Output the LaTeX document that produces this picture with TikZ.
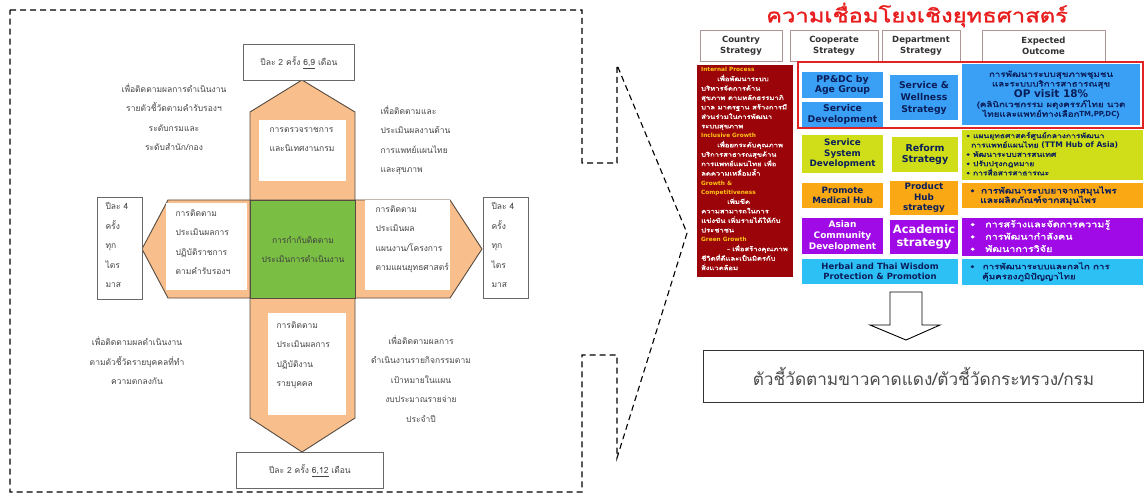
\documentclass[tikz,border=0pt]{standalone}
\usepackage{fontspec}
\setmainfont{DejaVu Sans}
\newfontfamily\enfont{DejaVu Sans}
\newfontfamily\thaifont[Script=Thai,AutoFakeBold=2]{Loma}
\newfontfamily\thaiwide[Script=Thai,FakeStretch=1.25,AutoFakeBold=1.6]{Loma}
\definecolor{peach}{RGB}{248,190,140}
\definecolor{armline}{RGB}{85,75,65}
\definecolor{ctrgreen}{RGB}{122,190,68}
\definecolor{boxgray}{RGB}{105,105,105}
\definecolor{txtgray}{RGB}{70,70,70}
\definecolor{maroon}{RGB}{155,5,10}
\definecolor{hdr}{RGB}{255,196,20}
\definecolor{sky}{RGB}{58,160,245}
\definecolor{navy}{RGB}{10,30,90}
\definecolor{lime}{RGB}{208,222,25}
\definecolor{amber}{RGB}{250,168,20}
\definecolor{violet}{RGB}{160,10,230}
\definecolor{aqua}{RGB}{45,192,245}
\definecolor{redline}{RGB}{225,35,35}
\definecolor{titlered}{RGB}{232,30,30}
\definecolor{hdrline}{RGB}{175,150,150}
\begin{document}
\begin{tikzpicture}[x=1pt,y=-1pt,
  arm/.style={fill=peach,draw=armline,line width=0.9pt,line join=round},
  wbox/.style={fill=white,draw=none,anchor=north west,inner sep=0pt,outer sep=0pt},
  thaitxt/.style={font=\thaifont\fontsize{8.5}{19.5}\selectfont,text=txtgray},
  grayframe/.style={fill=white,draw=boxgray,line width=0.8pt,anchor=north west,inner sep=0pt},
  callout/.style={draw=black,line width=1.1pt,dash pattern=on 6pt off 4pt},
  cell/.style={anchor=north west,inner sep=0pt,outer sep=0pt,align=center,
    font=\enfont\bfseries\fontsize{9.3}{10.5}\selectfont},
  hdrbox/.style={fill=white,draw=hdrline,line width=0.8pt,inner sep=0pt,align=center,
    font=\enfont\bfseries\fontsize{8.5}{11}\selectfont,text=black!80},
  outtxt/.style={align=left,anchor=north west,inner sep=0pt},
  headword/.style={}
]
\useasboundingbox (0,0) rectangle (1145,497);

% ---------- dashed frame with callout pointing to the strategy table ----------
\draw[callout] (10,10) -- (582,10) -- (582,163) -- (617,163) -- (617,65) -- (687,233)
  -- (617,458) -- (617,355) -- (582,355) -- (582,492) -- (10,492) -- cycle;

% ---------- monitoring cross ----------
\draw[arm] (250,200) -- (168,200) -- (142,249) -- (168,298) -- (250,298) -- cycle;
\draw[arm] (355,200) -- (450,200) -- (482,249) -- (450,298) -- (355,298) -- cycle;
\draw[arm] (250,200) -- (250,112) -- (302,80) -- (355,112) -- (355,200) -- cycle;
\draw[arm] (250,298) -- (250,418) -- (302,452) -- (355,418) -- (355,298) -- cycle;

\node[wbox,minimum width=87,minimum height=61] (wtop) at (259,120) {};
\node[wbox,minimum width=81,minimum height=87] (wleft) at (166,203) {};
\node[wbox,minimum width=85,minimum height=90] (wright) at (365,200) {};
\node[wbox,minimum width=78,minimum height=102] (wbottom) at (268,313) {};

\node[fill=ctrgreen,draw=armline,line width=0.9pt,minimum width=105,minimum height=98,
  inner sep=0pt,anchor=north west,thaitxt,text=black!75,align=center] (center) at (250,200)
  {การกำกับติดตาม\\ประเมินการดำเนินงาน};

\node[thaitxt,align=left,anchor=north west] (ttop) at (266,124) {การตรวจราชการ\\และนิเทศงานกรม};
\node[thaitxt,align=left,anchor=north west] (tleft) at (172,206) {การติดตาม\\ประเมินผลการ\\ปฏิบัติราชการ\\ตามคำรับรองฯ};
\node[thaitxt,align=left,anchor=north west] (tright) at (372,202) {การติดตาม\\ประเมินผล\\แผนงาน/โครงการ\\ตามแผนยุทธศาสตร์};
\node[thaitxt,align=left,anchor=north west] (tbottom) at (273,318) {การติดตาม\\ประเมินผลการ\\ปฏิบัติงาน\\รายบุคคล};

% frequency boxes
\node[grayframe,minimum width=111,minimum height=36,thaitxt] (ftop) at (243,44)
  {ปีละ 2 ครั้ง \underline{6,9} เดือน};
\node[grayframe,minimum width=147,minimum height=36,thaitxt] (fbottom) at (236,452)
  {ปีละ 2 ครั้ง \underline{6,12} เดือน};
\node[grayframe,minimum width=45,minimum height=102] (fleft) at (97,197) {};
\node[grayframe,minimum width=45,minimum height=101] (fright) at (483,197) {};
\node[thaitxt,align=left,anchor=north west] (fltxt) at (102,199) {ปีละ 4\\ครั้ง\\ทุก\\ไตร\\มาส};
\node[thaitxt,align=left,anchor=north west] (frtxt) at (488,199) {ปีละ 4\\ครั้ง\\ทุก\\ไตร\\มาส};

% purpose notes
\node[thaitxt,align=center] (ntl) at (174,117)
  {เพื่อติดตามผลการดำเนินงาน\\รายตัวชี้วัดตามคำรับรองฯ\\ระดับกรมและ\\ระดับสำนัก/กอง};
\node[thaitxt,align=left,anchor=north west] (ntr) at (377,102)
  {เพื่อติดตามและ\\ประเมินผลงานด้าน\\การแพทย์แผนไทย\\และสุขภาพ};
\node[thaitxt,align=center] (nbl) at (137,361)
  {เพื่อติดตามผลดำเนินงาน\\ตามตัวชี้วัดรายบุคคลที่ทำ\\ความตกลงกัน};
\node[thaitxt,align=center] (nbr) at (421,379)
  {เพื่อติดตามผลการ\\ดำเนินงานรายกิจกรรมตาม\\เป้าหมายในแผน\\งบประมาณรายจ่าย\\ประจำปี};

% ---------- strategy linkage table ----------
\node[font=\thaiwide\bfseries\fontsize{19}{22}\selectfont,text=titlered] (title) at (917,15)
  {ความเชื่อมโยงเชิงยุทธศาสตร์};

\node[hdrbox,minimum width=82,minimum height=31] (hcountry) at (741,45.5) {Country\\Strategy};
\node[hdrbox,minimum width=88,minimum height=31] (hcoop) at (834,45.5) {Cooperate\\Strategy};
\node[hdrbox,minimum width=78,minimum height=31] (hdept) at (921,45.5) {Department\\Strategy};
\node[hdrbox,minimum width=123,minimum height=31] (hexp) at (1043.5,45.5) {Expected\\Outcome};

% country strategy column
\node[fill=maroon,anchor=north west,minimum width=96,minimum height=212,inner sep=0pt] (country) at (697,65) {};
\node[anchor=north west,inner sep=0pt,align=left,text=white,
  font=\thaiwide\bfseries\fontsize{6.1}{9.45}\selectfont] (countrytxt) at (701,67)
  {{\enfont\fontsize{5.8}{9.45}\selectfont\color{hdr}Internal Process}\\
   \hspace*{16pt}เพื่อพัฒนาระบบ\\
   บริหารจัดการด้าน\\
   สุขภาพ ตามหลักธรรมาภิ\\
   บาล มาตรฐาน สร้างการมี\\
   ส่วนร่วมในการพัฒนา\\
   ระบบสุขภาพ\\
   {\enfont\fontsize{5.8}{9.45}\selectfont\color{hdr}Inclusive Growth}\\
   \hspace*{16pt}เพื่อยกระดับคุณภาพ\\
   บริการสาธารณสุขด้าน\\
   การแพทย์แผนไทย เพื่อ\\
   ลดความเหลื่อมล้ำ\\
   {\enfont\fontsize{5.8}{9.45}\selectfont\color{hdr}Growth \&}\\
   {\enfont\fontsize{5.8}{9.45}\selectfont\color{hdr}Competitiveness}\\
   \hspace*{26pt}เพิ่มขีด\\
   ความสามารถในการ\\
   แข่งขัน เพิ่มรายได้ให้กับ\\
   ประชาชน\\
   {\enfont\fontsize{5.8}{9.45}\selectfont\color{hdr}Green Growth}\\
   \hspace*{26pt}- เพื่อสร้างคุณภาพ\\
   ชีวิตที่ดีและเป็นมิตรกับ\\
   สิ่งแวดล้อม};

% row 1 (blue)
\node[cell,fill=sky,text=navy,minimum width=81,minimum height=26] (ppdc) at (802,72) {PP\&DC by\\Age Group};
\node[cell,fill=sky,text=navy,minimum width=81,minimum height=25] (servdev) at (802,102) {Service\\Development};
\node[cell,fill=sky,text=navy,minimum width=68,minimum height=45,
  font=\enfont\bfseries\fontsize{9.3}{12}\selectfont] (wellness) at (890,75) {Service \&\\Wellness\\Strategy};
\node[cell,fill=sky,text=navy,minimum width=178,minimum height=61,
  font=\thaiwide\bfseries\fontsize{7.8}{9.6}\selectfont] (expblue) at (962,64)
  {การพัฒนาระบบสุขภาพชุมชน\\และระบบบริการสาธารณสุข\\{\enfont\fontsize{10.5}{10}\selectfont OP visit 18\%}\\(คลินิกเวชกรรม ผดุงครรภ์ไทย นวด\\ไทยและแพทย์ทางเลือก{\enfont\fontsize{7}{9.6}\selectfont TM,PP,DC})};
\draw[redline,line width=1.1pt] (798,62) rectangle (1143,128);

% row 2 (lime)
\node[cell,fill=lime,text=navy,minimum width=81,minimum height=38,
  font=\enfont\bfseries\fontsize{8.8}{10.5}\selectfont] (ssd) at (802,135) {Service\\System\\Development};
\node[cell,fill=lime,text=navy,minimum width=66,minimum height=35,
  font=\enfont\bfseries\fontsize{9.5}{11.5}\selectfont] (reform) at (892,137) {Reform\\Strategy};
\node[cell,fill=lime,minimum width=181,minimum height=50] (explime) at (962,130) {};
\node[outtxt,text=navy,font=\thaiwide\bfseries\fontsize{6.8}{9.3}\selectfont] (explimetxt) at (966,132)
  {• แผนยุทธศาสตร์ศูนย์กลางการพัฒนา\\\hspace*{5pt}การแพทย์แผนไทย {\enfont\fontsize{7.6}{9.3}\selectfont(TTM Hub of Asia)}\\• พัฒนาระบบสารสนเทศ\\• ปรับปรุงกฎหมาย\\• การสื่อสารสาธารณะ};

% row 3 (amber)
\node[cell,fill=amber,text=navy,minimum width=81,minimum height=25,
  font=\enfont\bfseries\fontsize{8.7}{10.5}\selectfont] (medhub) at (802,183) {Promote\\Medical Hub};
\node[cell,fill=amber,text=navy,minimum width=68,minimum height=34,
  font=\enfont\bfseries\fontsize{8.8}{10.5}\selectfont] (prodhub) at (890,181) {Product\\Hub\\strategy};
\node[cell,fill=amber,minimum width=181,minimum height=25] (expamber) at (962,183) {};
\node[outtxt,text=navy,font=\thaiwide\bfseries\fontsize{8.1}{9.5}\selectfont] (expambertxt) at (970,186)
  {•\hspace{6pt}การพัฒนาระบบยาจากสมุนไพร\\\hspace*{10pt}และผลิตภัณฑ์จากสมุนไพร};

% row 4 (violet)
\node[cell,fill=violet,text=white,minimum width=81,minimum height=36,
  font=\enfont\bfseries\fontsize{9}{10.8}\selectfont] (asian) at (802,218) {Asian\\Community\\Development};
\node[cell,fill=violet,text=white,minimum width=68,minimum height=34,
  font=\enfont\bfseries\fontsize{11.5}{13.5}\selectfont] (academic) at (890,220) {Academic\\strategy};
\node[cell,fill=violet,minimum width=181,minimum height=38] (expviolet) at (962,218) {};
\node[outtxt,text=white,font=\thaiwide\bfseries\fontsize{8.6}{12.3}\selectfont] (expviolettxt) at (970,220)
  {•\hspace{10pt}การสร้างและจัดการความรู้\\•\hspace{10pt}การพัฒนากำลังคน\\•\hspace{10pt}พัฒนาการวิจัย};

% row 5 (aqua)
\node[cell,fill=aqua,text=navy,minimum width=156,minimum height=25,
  font=\enfont\bfseries\fontsize{8.5}{10.5}\selectfont] (herbal) at (802,259) {Herbal and Thai Wisdom\\Protection \& Promotion};
\node[cell,fill=aqua,minimum width=181,minimum height=26] (expaqua) at (962,259) {};
\node[outtxt,text=navy,font=\thaiwide\bfseries\fontsize{7.8}{10}\selectfont] (expaquatxt) at (970,262)
  {•\hspace{8pt}การพัฒนาระบบและกลไก การ\\\hspace*{12pt}คุ้มครองภูมิปัญญาไทย};

% hollow arrow down to the indicator box
\draw[line width=0.9pt,fill=white] (890,292) -- (922,292) -- (922,325) -- (940,325) -- (906,340)
  -- (870,325) -- (890,325) -- cycle;

\node[grayframe,draw=black!80,line width=1pt,minimum width=440,minimum height=52,
  font=\thaifont\fontsize{17.2}{20}\selectfont,text=black!70] (kpi) at (703,350)
  {ตัวชี้วัดตามขาวคาดแดง/ตัวชี้วัดกระทรวง/กรม};
\end{tikzpicture}
\end{document}
